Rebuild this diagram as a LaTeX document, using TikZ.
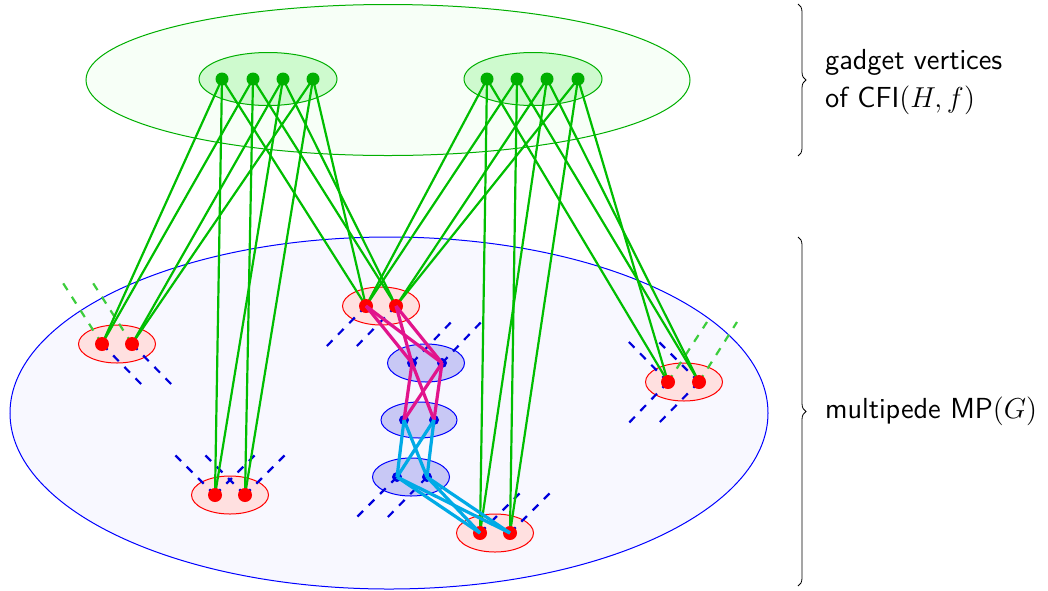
\documentclass[tikz,border=0pt]{standalone}
\usetikzlibrary{shapes.geometric,decorations.pathreplacing}
\definecolor{gline}{RGB}{0,190,0}
\definecolor{gdotc}{RGB}{0,175,0}
\definecolor{gfill}{RGB}{206,250,206}
\definecolor{cfifill}{RGB}{247,255,247}
\definecolor{rfill}{RGB}{255,224,224}
\definecolor{bfill}{RGB}{200,200,245}
\definecolor{bigfill}{RGB}{248,248,255}
\definecolor{mag}{RGB}{225,20,140}
\definecolor{cyn}{RGB}{0,170,230}
\definecolor{gdash}{RGB}{60,205,60}
\definecolor{bdash}{RGB}{0,0,220}
\definecolor{bdot}{RGB}{0,0,230}
\begin{document}
\begin{tikzpicture}[x=0.5pt,y=-0.5pt,
  ell/.style={ellipse, draw, inner sep=0pt, line width=0.5pt},
  gell/.style={ell, draw=gdotc, fill=gfill},
  rell/.style={ell, draw=red, fill=rfill},
  bell/.style={ell, draw=blue, fill=bfill},
  gdotn/.style={circle, fill=gdotc, inner sep=0pt, minimum size=6.5pt},
  rdotn/.style={circle, fill=red, inner sep=0pt, minimum size=7pt},
  bdotn/.style={circle, fill=bdot, inner sep=0pt, minimum size=5pt},
  gedge/.style={draw=gline, line width=1.1pt},
  medge/.style={draw=mag, line width=1.6pt},
  cedge/.style={draw=cyn, line width=1.6pt},
  bstub/.style={draw=bdash, line width=1.1pt, dash pattern=on 4pt off 4pt},
  gstub/.style={draw=gdash, line width=1.1pt, dash pattern=on 4pt off 4pt},
  brc/.style={draw=black, line width=0.4pt, decorate, decoration={brace, amplitude=4pt}},
  lbl/.style={anchor=west, align=left, font=\sffamily\fontsize{14.5}{19}\selectfont}
]
\useasboundingbox (0,0) rectangle (1048,590);
% coordinates of vertices
\coordinate (L1) at (222,79); \coordinate (L2) at (253,79);
\coordinate (L3) at (283,79); \coordinate (L4) at (313,79);
\coordinate (R1) at (487,79); \coordinate (R2) at (517,79);
\coordinate (R3) at (547,79); \coordinate (R4) at (578,79);
\coordinate (A1) at (102,344); \coordinate (A2) at (132,344);
\coordinate (B1) at (215,495); \coordinate (B2) at (245,495);
\coordinate (C1) at (366,306); \coordinate (C2) at (396,306);
\coordinate (D1) at (668,382); \coordinate (D2) at (699,382);
\coordinate (E1) at (480,533); \coordinate (E2) at (510,533);
\coordinate (F1) at (412,363); \coordinate (F2) at (442,363);
\coordinate (G1) at (404,420); \coordinate (G2) at (434,420);
\coordinate (H1) at (397,477); \coordinate (H2) at (427,477);
% big ellipses
\node[ell, draw=blue, fill=bigfill, minimum width=379pt, minimum height=176pt] (mp) at (389,413) {};
\node[ell, draw=gdotc, fill=cfifill, minimum width=302pt, minimum height=75.5pt] (cfi) at (388,80) {};
\node[gell, minimum width=69pt, minimum height=26.5pt] (gl) at (268,79) {};
\node[gell, minimum width=69pt, minimum height=26.5pt] (gr) at (533,79) {};
% small ellipses
\node[rell, minimum width=38.5pt, minimum height=19pt] (eA) at (117,344) {};
\node[rell, minimum width=38.5pt, minimum height=19pt] (eB) at (230,495) {};
\node[rell, minimum width=38.5pt, minimum height=19pt] (eC) at (381,306) {};
\node[rell, minimum width=38.5pt, minimum height=19pt] (eD) at (684,382) {};
\node[rell, minimum width=38.5pt, minimum height=19pt] (eE) at (495,533) {};
\node[bell, minimum width=38.5pt, minimum height=19pt] (eF) at (426,363) {};
\node[bell, minimum width=38pt, minimum height=18pt] (eG) at (419,420) {};
\node[bell, minimum width=38.5pt, minimum height=19pt] (eH) at (411,477) {};
% stub ends
\coordinate (sA1g) at (63,283); \coordinate (sA2g) at (93,283);
\coordinate (sA1b) at (145,388); \coordinate (sA2b) at (175,388);
\coordinate (sB1l) at (172,452); \coordinate (sB1r) at (258,452);
\coordinate (sB2l) at (202,452); \coordinate (sB2r) at (288,452);
\coordinate (sC1) at (322,351); \coordinate (sC2) at (352,351);
\coordinate (sF1) at (455,318); \coordinate (sF2) at (485,318);
\coordinate (sH1) at (352,522); \coordinate (sH2) at (383,522);
\coordinate (sE1) at (525,488); \coordinate (sE2) at (555,488);
\coordinate (sD1g) at (707,322); \coordinate (sD2g) at (737,322);
\coordinate (sD1u) at (625,338); \coordinate (sD2u) at (655,338);
\coordinate (sD1d) at (625,427); \coordinate (sD2d) at (655,427);
% dashed stubs
\draw[gstub] (A1) -- (sA1g); \draw[gstub] (A2) -- (sA2g);
\draw[bstub] (A1) -- (sA1b); \draw[bstub] (A2) -- (sA2b);
\draw[bstub] (B1) -- (sB1l); \draw[bstub] (B1) -- (sB1r);
\draw[bstub] (B2) -- (sB2l); \draw[bstub] (B2) -- (sB2r);
\draw[bstub] (C1) -- (sC1); \draw[bstub] (C2) -- (sC2);
\draw[bstub] (F1) -- (sF1); \draw[bstub] (F2) -- (sF2);
\draw[bstub] (H1) -- (sH1); \draw[bstub] (H2) -- (sH2);
\draw[bstub] (E1) -- (sE1); \draw[bstub] (E2) -- (sE2);
\draw[gstub] (D1) -- (sD1g); \draw[gstub] (D2) -- (sD2g);
\draw[bstub] (D1) -- (sD1u); \draw[bstub] (D2) -- (sD2u);
\draw[bstub] (D1) -- (sD1d); \draw[bstub] (D2) -- (sD2d);
% green edges (left gadget)
\draw[gedge] (L1) -- (A1); \draw[gedge] (L2) -- (A1);
\draw[gedge] (L3) -- (A2); \draw[gedge] (L4) -- (A2);
\draw[gedge] (L1) -- (B1); \draw[gedge] (L3) -- (B1);
\draw[gedge] (L2) -- (B2); \draw[gedge] (L4) -- (B2);
\draw[gedge] (L1) -- (C1); \draw[gedge] (L4) -- (C1);
\draw[gedge] (L2) -- (C2); \draw[gedge] (L3) -- (C2);
% green edges (right gadget)
\draw[gedge] (R1) -- (C1); \draw[gedge] (R2) -- (C1);
\draw[gedge] (R3) -- (C2); \draw[gedge] (R4) -- (C2);
\draw[gedge] (R1) -- (E1); \draw[gedge] (R3) -- (E1);
\draw[gedge] (R2) -- (E2); \draw[gedge] (R4) -- (E2);
\draw[gedge] (R1) -- (D1); \draw[gedge] (R4) -- (D1);
\draw[gedge] (R2) -- (D2); \draw[gedge] (R3) -- (D2);
% dots
\node[gdotn] (dL1) at (L1) {}; \node[gdotn] (dL2) at (L2) {};
\node[gdotn] (dL3) at (L3) {}; \node[gdotn] (dL4) at (L4) {};
\node[gdotn] (dR1) at (R1) {}; \node[gdotn] (dR2) at (R2) {};
\node[gdotn] (dR3) at (R3) {}; \node[gdotn] (dR4) at (R4) {};
\node[rdotn] (dA1) at (A1) {}; \node[rdotn] (dA2) at (A2) {};
\node[rdotn] (dB1) at (B1) {}; \node[rdotn] (dB2) at (B2) {};
\node[rdotn] (dC1) at (C1) {}; \node[rdotn] (dC2) at (C2) {};
\node[rdotn] (dD1) at (D1) {}; \node[rdotn] (dD2) at (D2) {};
\node[rdotn] (dE1) at (E1) {}; \node[rdotn] (dE2) at (E2) {};
\node[bdotn] (dF1) at (F1) {}; \node[bdotn] (dF2) at (F2) {};
\node[bdotn] (dG1) at (G1) {}; \node[bdotn] (dG2) at (G2) {};
\node[bdotn] (dH1) at (H1) {}; \node[bdotn] (dH2) at (H2) {};
% magenta chain
\draw[medge] (C1) -- (F1); \draw[medge] (C1) -- (F2);
\draw[medge] (C2) -- (F1); \draw[medge] (C2) -- (F2);
\draw[medge] (F1) -- (G1); \draw[medge] (F1) -- (G2);
\draw[medge] (F2) -- (G1); \draw[medge] (F2) -- (G2);
% cyan chain
\draw[cedge] (G1) -- (H1); \draw[cedge] (G1) -- (H2);
\draw[cedge] (G2) -- (H1); \draw[cedge] (G2) -- (H2);
\draw[cedge] (H1) -- (E1); \draw[cedge] (H1) -- (E2);
\draw[cedge] (H2) -- (E1); \draw[cedge] (H2) -- (E2);
% braces and labels
\coordinate (b1t) at (798,4); \coordinate (b1b) at (798,156);
\coordinate (b2t) at (798,237); \coordinate (b2b) at (798,586);
\draw[brc] (b1t) -- (b1b);
\draw[brc] (b2t) -- (b2b);
\node[lbl] (t1) at (818,82) {gadget vertices\\of CFI$(H,f)$};
\node[lbl] (t2) at (818,411) {multipede MP$(G)$};
\end{tikzpicture}
\end{document}
